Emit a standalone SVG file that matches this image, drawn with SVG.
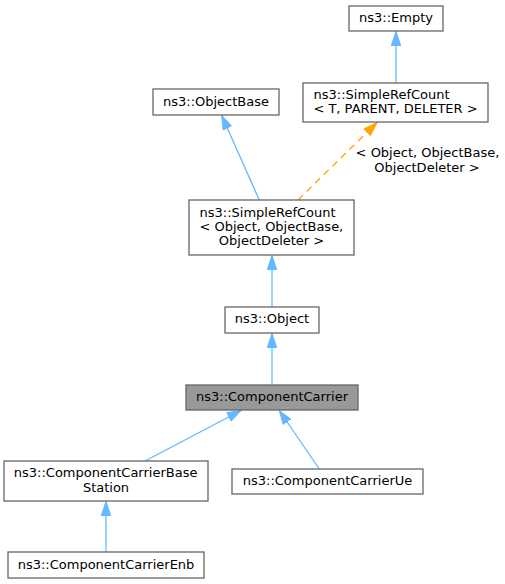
<svg xmlns="http://www.w3.org/2000/svg" width="505" height="584" viewBox="0 0 505 584">
<style>
  .box { fill: #ffffff; stroke: #666666; stroke-width: 1.3; }
  .hl { fill: #999999; stroke: #666666; stroke-width: 1.3; }
  text { font-family: "DejaVu Sans", "Noto Sans", sans-serif; font-size: 13px; fill: #000000; }
  .c { text-anchor: middle; }
  .edge { fill: none; stroke: #63b8ff; stroke-width: 1.3; }
  .tmpl { fill: none; stroke: #ffa500; stroke-width: 1.3; stroke-dasharray: 7,5; }
</style>
<defs>
  <marker id="blue" markerUnits="userSpaceOnUse" markerWidth="16" markerHeight="12" refX="14" refY="5" orient="auto">
    <path d="M0,0.3 L14,5 L0,9.7 z" fill="#63b8ff" stroke="#63b8ff" stroke-width="1"/>
  </marker>
  <marker id="orange" markerUnits="userSpaceOnUse" markerWidth="16" markerHeight="12" refX="14" refY="5" orient="auto">
    <path d="M0,0.3 L14,5 L0,9.7 z" fill="#ffa500" stroke="#ffa500" stroke-width="1"/>
  </marker>
</defs>
<rect width="505" height="584" fill="#ffffff"/>
<g id="connectors">
  <path class="edge" d="M396,83 L396,31.5" marker-end="url(#blue)"/>
  <path class="edge" d="M259.3,200 L221.7,115.5" marker-end="url(#blue)"/>
  <path class="tmpl" d="M298,200 L377,122.5" marker-end="url(#orange)"/>
  <text class="c" x="427.5" y="156.7">&lt; Object, ObjectBase,</text>
  <text class="c" x="427" y="171.5">ObjectDeleter &gt;</text>
  <path class="edge" d="M272,307 L272,255.5" marker-end="url(#blue)"/>
  <path class="edge" d="M272,385 L272,333.5" marker-end="url(#blue)"/>
  <path class="edge" d="M145,461 L241,410.5" marker-end="url(#blue)"/>
  <path class="edge" d="M319.3,469 L279.3,410.5" marker-end="url(#blue)"/>
  <path class="edge" d="M106,552 L106,501.5" marker-end="url(#blue)"/>
</g>
<g id="node-empty">
  <rect class="box" x="349" y="6" width="94" height="25"/>
  <text class="c" x="396" y="22">ns3::Empty</text>
</g>
<g id="node-simplerefcount-t">
  <rect class="box" x="303" y="83" width="185" height="39"/>
  <text x="313.5" y="99">ns3::SimpleRefCount</text>
  <text class="c" x="395.5" y="113">&lt; T, PARENT, DELETER &gt;</text>
</g>
<g id="node-objectbase">
  <rect class="box" x="153" y="89" width="126" height="26"/>
  <text class="c" x="216" y="105.5">ns3::ObjectBase</text>
</g>
<g id="node-simplerefcount-object">
  <rect class="box" x="189" y="200" width="165" height="55"/>
  <text x="199.5" y="216.7">ns3::SimpleRefCount</text>
  <text x="199.5" y="231">&lt; Object, ObjectBase,</text>
  <text class="c" x="271.5" y="245.3">ObjectDeleter &gt;</text>
</g>
<g id="node-object">
  <rect class="box" x="225" y="307" width="94" height="26"/>
  <text class="c" x="272" y="323">ns3::Object</text>
</g>
<g id="node-componentcarrier">
  <rect class="hl" x="186" y="385" width="172" height="25"/>
  <text class="c" x="272" y="401">ns3::ComponentCarrier</text>
</g>
<g id="node-componentcarrierbasestation">
  <rect class="box" x="4" y="461" width="204" height="40"/>
  <text x="13.8" y="477">ns3::ComponentCarrierBase</text>
  <text class="c" x="106" y="491.5">Station</text>
</g>
<g id="node-componentcarrierue">
  <rect class="box" x="232" y="469" width="191" height="25"/>
  <text class="c" x="327.5" y="485">ns3::ComponentCarrierUe</text>
</g>
<g id="node-componentcarrierenb">
  <rect class="box" x="8" y="552" width="196" height="26"/>
  <text class="c" x="106" y="568.5">ns3::ComponentCarrierEnb</text>
</g>
</svg>
